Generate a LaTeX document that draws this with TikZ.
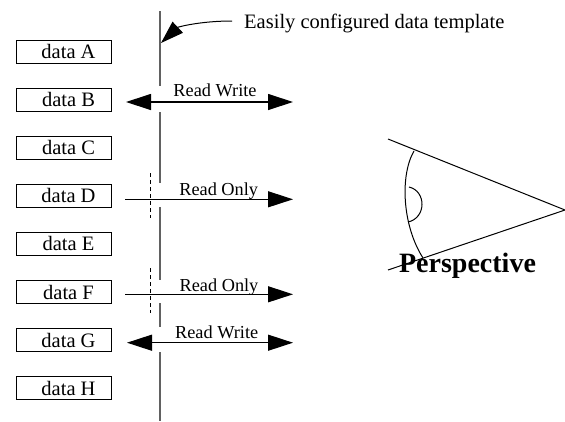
\documentclass[tikz,border=0pt]{standalone}
\usepackage{fontspec}
\setmainfont{Liberation Serif}
\usetikzlibrary{arrows.meta}
\begin{document}
\begin{tikzpicture}[x=1pt,y=-1pt,
  databox/.style={draw, line width=0.9pt, minimum width=95pt, minimum height=23pt, inner sep=0pt,
    font=\fontsize{20.5}{22}\selectfont, execute at begin node={\hspace*{10pt}}},
  axisline/.style={draw=black!62, line width=2pt},
  tip/.style={Triangle[length=25pt,width=16pt]},
  rw/.style={line width=1.2pt, {Triangle[length=25pt,width=16pt]}-{Triangle[length=25pt,width=16pt]}},
  ro/.style={line width=1.2pt, -{Triangle[length=25pt,width=16pt]}},
  lbl/.style={font=\fontsize{18.3}{20}\selectfont, anchor=base, inner sep=0pt},
  guide/.style={dash pattern=on 4pt off 3pt, line width=0.8pt},
  thin/.style={line width=1pt}
]
\useasboundingbox (0,0) rectangle (565,421);

% data boxes
\node[databox] (dA) at (63.5,51.5)  {data A};
\node[databox] (dB) at (63.5,99.6)  {data B};
\node[databox] (dC) at (63.5,147.7) {data C};
\node[databox] (dD) at (63.5,195.8) {data D};
\node[databox] (dE) at (63.5,243.9) {data E};
\node[databox] (dF) at (63.5,292)   {data F};
\node[databox] (dG) at (63.5,340)   {data G};
\node[databox] (dH) at (63.5,388)   {data H};

% template line (broken)
\coordinate (v0) at (160,11);   \coordinate (v1) at (160,86);
\coordinate (v2) at (160,112);  \coordinate (v3) at (160,183);
\coordinate (v4) at (160,207);  \coordinate (v5) at (160,280);
\coordinate (v6) at (160,303);  \coordinate (v7) at (160,327);
\coordinate (v8) at (160,352);  \coordinate (v9) at (160,421);
\draw[axisline] (v0) -- (v1);
\draw[axisline] (v2) -- (v3);
\draw[axisline] (v4) -- (v5);
\draw[axisline] (v6) -- (v7);
\draw[axisline] (v8) -- (v9);

% dashed offsets
\coordinate (g1a) at (150,173); \coordinate (g1b) at (150,218);
\coordinate (g2a) at (150,268); \coordinate (g2b) at (150,313);
\draw[guide] (g1a) -- (g1b);
\draw[guide] (g2a) -- (g2b);

% arrows
\coordinate (bL) at (126,102);   \coordinate (bR) at (293,102);
\coordinate (dL) at (125,199.3); \coordinate (dR) at (293,199.3);
\coordinate (fL) at (125,294.3); \coordinate (fR) at (293,294.3);
\coordinate (gL) at (127,342.7); \coordinate (gR) at (293,342.7);
\draw[rw] (bL) -- (bR);
\draw[ro] (dL) -- (dR);
\draw[ro] (fL) -- (fR);
\draw[rw] (gL) -- (gR);

\node[lbl] (lB) at (215,96.5)  {Read Write};
\node[lbl] (lD) at (218.7,195) {Read Only};
\node[lbl] (lF) at (219,291)   {Read Only};
\node[lbl] (lG) at (216.7,338) {Read Write};

% title and curved pointer
\node[font=\fontsize{20.5}{22}\selectfont, anchor=base west, inner sep=0pt] (title) at (244,28.3) {Easily configured data template};
\coordinate (cs) at (232,21);
\coordinate (ce) at (161,43);
\draw[thin, -{Triangle[length=23pt,width=15pt]}] (cs) .. controls (200,21) and (178,27) .. (ce);

% perspective
\coordinate (pU) at (388,139);
\coordinate (pT) at (565,210);
\coordinate (pL) at (388,270);
\draw[thin] (pU) -- (pT) -- (pL);
\coordinate (a0) at (414,151);
\coordinate (a1) at (423,258);
\draw[thin] (a0) .. controls (400,175) and (402,225) .. (a1);
\coordinate (s0) at (409,187);
\coordinate (s1) at (408,222);
\draw[thin] (s0) .. controls (426.5,191) and (426.5,218) .. (s1);
\node[font=\bfseries\fontsize{28}{30}\selectfont, anchor=base, inner sep=0pt] (persp) at (467.5,272) {Perspective};
\end{tikzpicture}
\end{document}
